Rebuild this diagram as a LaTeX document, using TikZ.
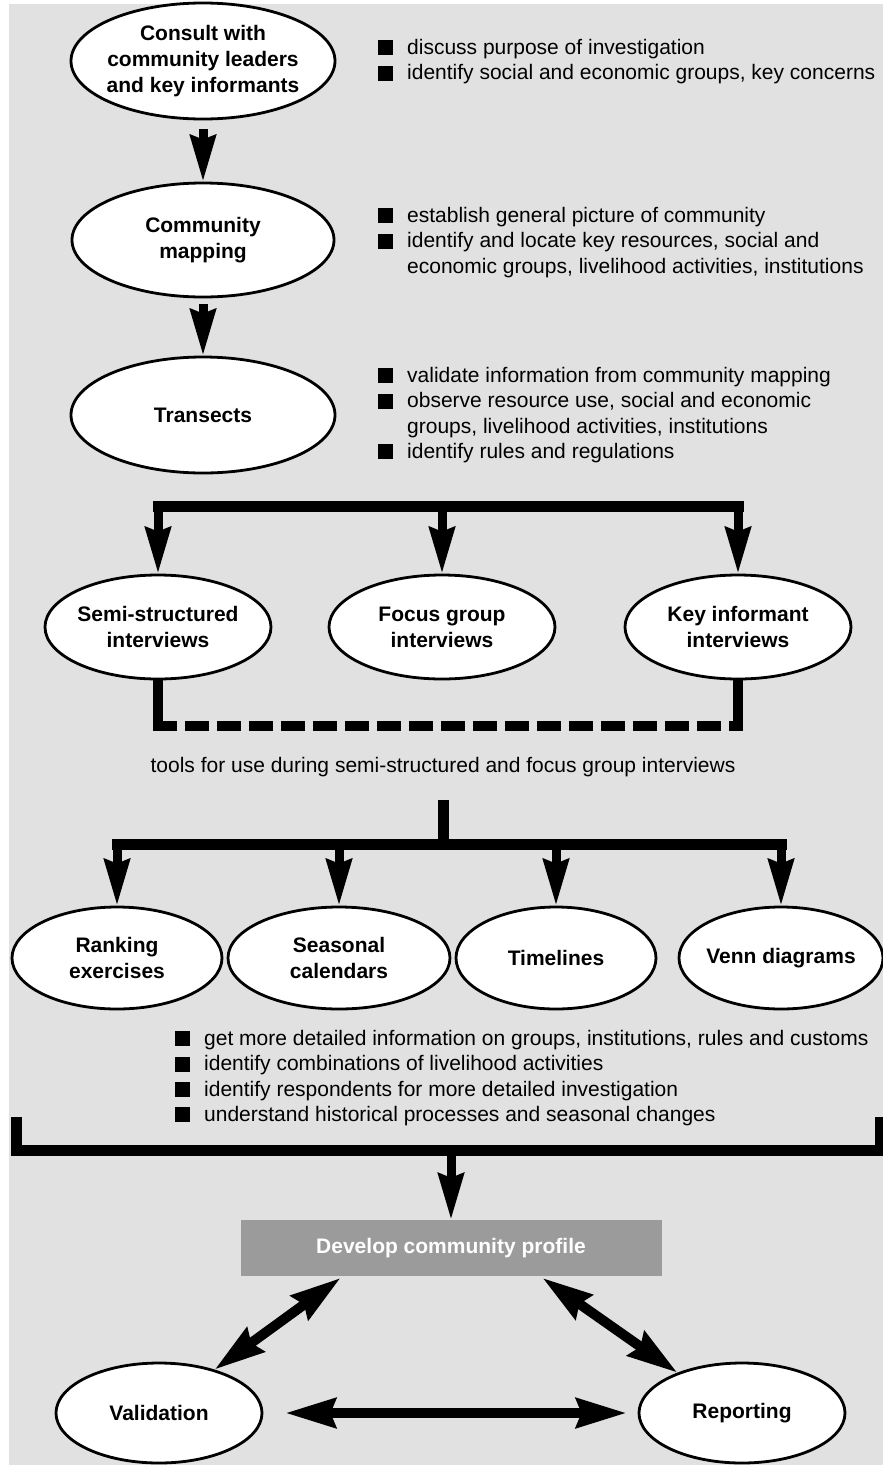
\documentclass[tikz,border=0pt]{standalone}
\usepackage{fontspec}
\setmainfont{Liberation Sans}
\usetikzlibrary{shapes.geometric,arrows.meta}

\definecolor{paper}{HTML}{E1E1E1}
\definecolor{boxgrey}{HTML}{9B9B9B}
\newcommand{\bul}{\makebox[29pt][l]{\rule[-1pt]{15pt}{15pt}}}
\newcommand{\ind}{\hspace*{29pt}}

\tikzset{
  stage/.style={ellipse, draw, line width=2.8pt, fill=white, inner sep=-40pt,
    align=center, font=\fontsize{21}{26}\selectfont\bfseries},
  notes/.style={anchor=north west, inner sep=0pt, align=left,
    font=\fontsize{21}{25.3}\selectfont},
  fatline/.style={line width=11pt},
  fatarrow/.style={line width=9pt, -{Stealth[length=46pt, width=25pt, inset=4pt]}},
  twoway/.style={line width=10pt,
    {Stealth[length=50pt, width=29pt, inset=5pt]}-{Stealth[length=50pt, width=29pt, inset=5pt]}},
}

\begin{document}
\begin{tikzpicture}[x=1pt, y=-1pt]
  \useasboundingbox (0,0) rectangle (883,1465);
  \fill[white] (0,0) rectangle (883,1465);
  \fill[paper] (9,4) rectangle (883,1465);

  % first steps
  \node[stage, minimum width=264pt, minimum height=116pt] (consult) at (203,61)
    {Consult with\\community leaders\\and key informants};
  \node[stage, minimum width=262pt, minimum height=114pt] (mapping) at (203,240)
    {Community\\mapping};
  \node[stage, minimum width=264pt, minimum height=116pt] (transects) at (203,415)
    {Transects};
  \draw[fatarrow, shorten <=9pt] (consult.south) -- (mapping.north);
  \draw[fatarrow, shorten <=6pt] (mapping.south) -- (transects.north);

  \node[notes] (aims1) at (378,39)
    {\bul discuss purpose of investigation\\
     \bul identify social and economic groups, key concerns};
  \node[notes] (aims2) at (378,207)
    {\bul establish general picture of community\\
     \bul identify and locate key resources, social and\\
     \ind economic groups, livelihood activities, institutions};
  \node[notes] (aims3) at (378,367)
    {\bul validate information from community mapping\\
     \bul observe resource use, social and economic\\
     \ind groups, livelihood activities, institutions\\
     \bul identify rules and regulations};

  % interviews
  \node[stage, minimum width=226pt, minimum height=104pt] (semi) at (158,627)
    {Semi-structured\\interviews};
  \node[stage, minimum width=226pt, minimum height=104pt] (focus) at (442,627)
    {Focus group\\interviews};
  \node[stage, minimum width=226pt, minimum height=104pt] (keyinf) at (738,627)
    {Key informant\\interviews};

  \coordinate (fork1) at (442,506);
  \draw[fatline, line cap=rect] (semi.north |- fork1) -- (keyinf.north |- fork1);
  \foreach \n in {semi,focus,keyinf}
    \draw[fatarrow] (\n.north |- fork1) -- (\n.north);
  \draw[line width=10pt] (semi.south) -- ++(0,46) coordinate (tie);
  \draw[line width=10pt] (keyinf.south) -- (keyinf.south |- tie);
  \draw[line width=10pt, dash pattern=on 24pt off 8pt] ([xshift=-5pt]tie) -- ([xshift=5pt]keyinf.south |- tie);

  \node[font=\fontsize{21}{25.3}\selectfont] (tools) at (443,767)
    {tools for use during semi-structured and focus group interviews};

  % tools
  \node[stage, minimum width=210pt, minimum height=102pt] (ranking) at (117,958)
    {Ranking\\exercises};
  \node[stage, minimum width=222pt, minimum height=102pt] (seasonal) at (339,958)
    {Seasonal\\calendars};
  \node[stage, minimum width=200pt, minimum height=102pt] (timelines) at (556,958)
    {Timelines};
  \node[stage, minimum width=204pt, minimum height=102pt] (venn) at (781,958)
    {Venn diagrams};

  \coordinate (fork2) at (445,844);
  \draw[fatline, shorten <=20pt] (tools.south) -- (tools.south |- fork2);
  \draw[fatline, line cap=rect] (ranking.north |- fork2) -- (venn.north |- fork2);
  \foreach \n in {ranking,seasonal,timelines,venn}
    \draw[fatarrow] (\n.north |- fork2) -- (\n.north);

  \node[notes] (aims4) at (175,1030)
    {\bul get more detailed information on groups, institutions, rules and customs\\
     \bul identify combinations of livelihood activities\\
     \bul identify respondents for more detailed investigation\\
     \bul understand historical processes and seasonal changes};

  % profile
  \node[fill=boxgrey, minimum width=421pt, minimum height=56pt, text=white,
    font=\fontsize{21}{26}\selectfont\bfseries] (profile) at (451,1248)
    {Develop community profile};
  \coordinate (fork3) at (448,1150);
  \coordinate (endl) at (16,1117);
  \coordinate (endr) at (880,1117);
  \draw[fatline] (endl) |- (fork3) -| (endr);
  \draw[fatarrow] (profile.north |- fork3) -- (profile.north);

  \node[stage, minimum width=206pt, minimum height=100pt] (valid) at (159,1413)
    {Validation};
  \node[stage, minimum width=206pt, minimum height=100pt] (report) at (742,1413)
    {Reporting};
  \draw[twoway, shorten >=3pt] (valid.38) -- ([xshift=-108pt]profile.south);
  \draw[twoway, shorten >=3pt] (report.148) -- ([xshift=89pt]profile.south);
  \draw[twoway, shorten <=22pt, shorten >=11pt] (valid.east) -- (report.west);
\end{tikzpicture}
\end{document}
